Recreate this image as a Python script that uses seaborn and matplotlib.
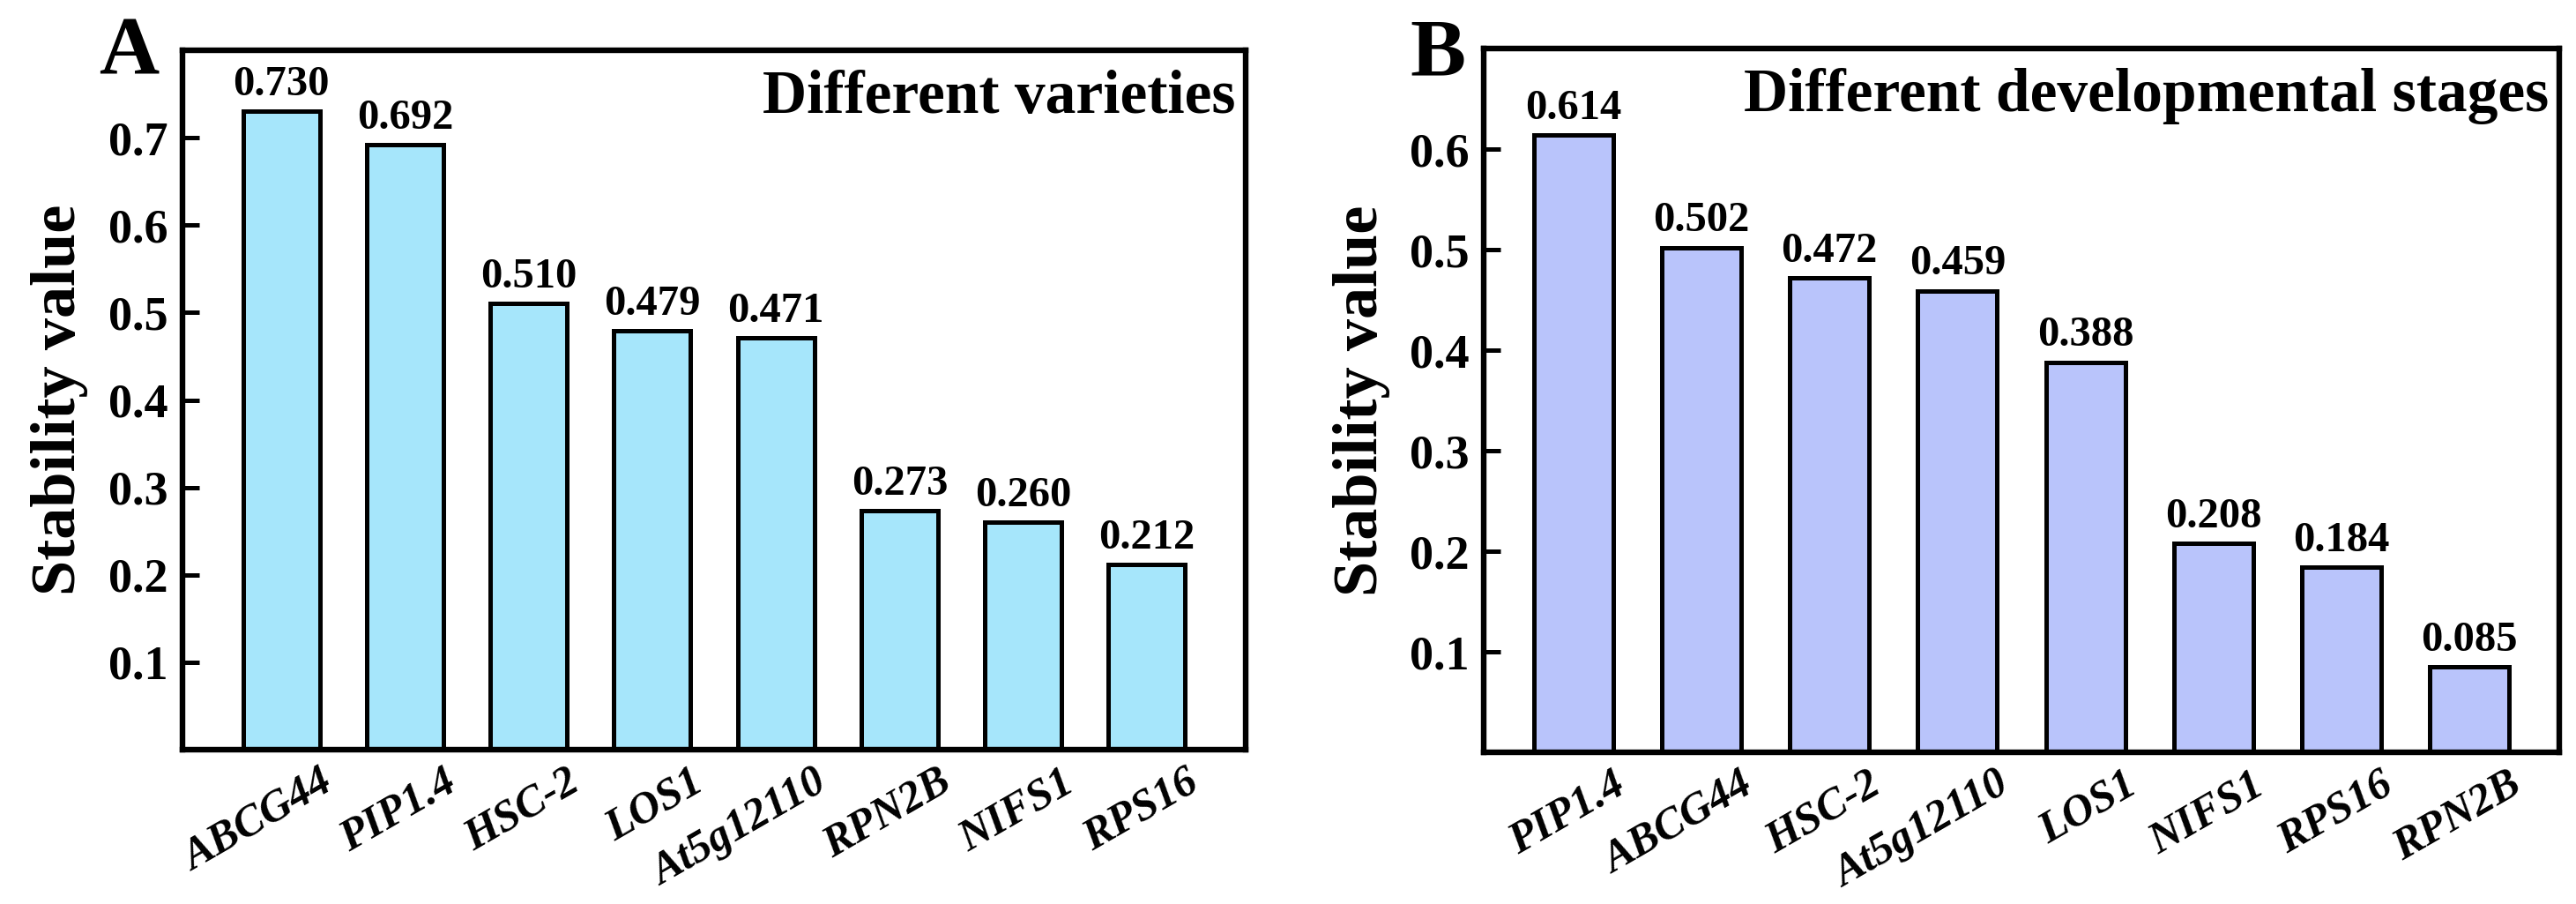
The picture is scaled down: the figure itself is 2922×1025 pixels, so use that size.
import matplotlib
matplotlib.use('Agg')
import matplotlib.pyplot as plt
import matplotlib.transforms as mtransforms
import seaborn as sns

# data
genes_a = ['ABCG44', 'PIP1.4', 'HSC-2', 'LOS1', 'At5g12110', 'RPN2B', 'NIFS1', 'RPS16']
values_a = [0.730, 0.692, 0.510, 0.479, 0.471, 0.273, 0.260, 0.212]
genes_b = ['PIP1.4', 'ABCG44', 'HSC-2', 'At5g12110', 'LOS1', 'NIFS1', 'RPS16', 'RPN2B']
values_b = [0.614, 0.502, 0.472, 0.459, 0.388, 0.208, 0.184, 0.085]
yticks_a = [0.1, 0.2, 0.3, 0.4, 0.5, 0.6, 0.7]
yticks_b = [0.1, 0.2, 0.3, 0.4, 0.5, 0.6]

sns.set_style('ticks')
plt.rcParams['font.family'] = ['Liberation Serif', 'DejaVu Serif']
plt.rcParams['font.weight'] = 'bold'
plt.rcParams['text.color'] = 'black'
plt.rcParams['axes.labelcolor'] = 'black'
plt.rcParams['xtick.color'] = 'black'
plt.rcParams['ytick.color'] = 'black'

fig = plt.figure(figsize=(14.61, 5.125), dpi=200)
ax_a = fig.add_axes([0.0708, 0.1707, 0.4128, 0.7737])
ax_b = fig.add_axes([0.5760, 0.1678, 0.4175, 0.7785])


def draw_panel(ax, genes, values, color, yticks, ylim, xlim, title):
    sns.barplot(x=genes, y=values, color=color, saturation=1, width=0.62,
                edgecolor='black', linewidth=1.8, ax=ax)
    ax.bar_label(ax.containers[0], fmt='%.3f', padding=3, fontsize=17.5,
                 fontweight='bold')
    ax.set_ylim(*ylim)
    ax.set_xlim(*xlim)
    ax.set_yticks(yticks)
    ax.set_yticklabels([f'{t:.1f}' for t in yticks])
    ax.set_ylabel('Stability value', fontsize=26, fontweight='bold', labelpad=8)
    ax.set_xlabel('')
    for s in ax.spines.values():
        s.set_visible(True)
        s.set_linewidth(2.3)
        s.set_color('black')
    ax.tick_params(axis='y', direction='in', length=6.8, width=1.8,
                   labelsize=19.5, pad=6)
    ax.tick_params(axis='x', length=0, labelsize=18, pad=5)
    offset = mtransforms.ScaledTranslation(0.215, 0, fig.dpi_scale_trans)
    for lab in ax.get_xticklabels():
        lab.set_rotation(30)
        lab.set_ha('right')
        lab.set_va('top')
        lab.set_rotation_mode('anchor')
        lab.set_fontstyle('italic')
        lab.set_fontweight('bold')
        lab.set_transform(lab.get_transform() + offset)
    ax.text(0.99, 0.972, title, transform=ax.transAxes, ha='right', va='top',
            fontsize=25, fontweight='bold')


draw_panel(ax_a, genes_a, values_a, '#A6E6FB', yticks_a, (0, 0.8), (-0.8, 7.8),
           'Different varieties')
draw_panel(ax_b, genes_b, values_b, '#B9C4FB', yticks_b, (0, 0.7), (-0.7, 7.7),
           'Different developmental stages')

fig.text(0.0385, 0.982, 'A', fontsize=34, fontweight='bold', ha='left', va='top')
fig.text(0.5475, 0.98, 'B', fontsize=34, fontweight='bold', ha='left', va='top')

fig.savefig('out.png', dpi=200)
